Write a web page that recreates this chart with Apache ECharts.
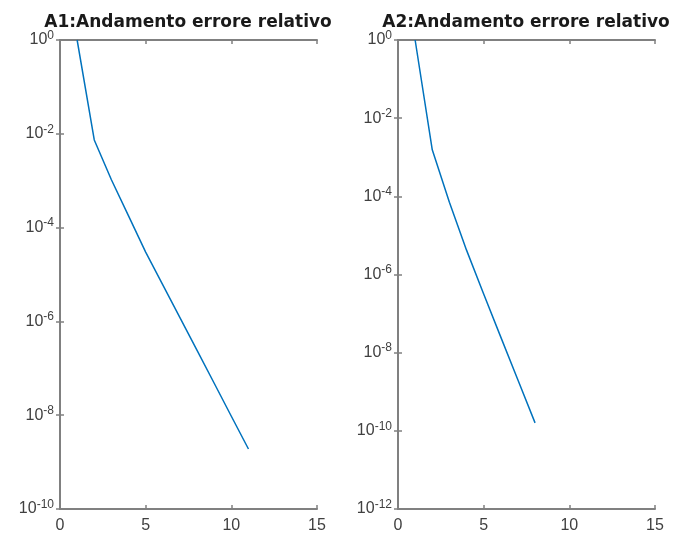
<!DOCTYPE html>
<html>
<head>
<meta charset="utf-8">
<script src="https://cdn.jsdelivr.net/npm/echarts@6/dist/echarts.min.js"></script>
<style>
html,body{margin:0;padding:0;background:#fff;}
#chart{width:675px;height:534px;}
</style>
</head>
<body>
<div id="chart"></div>
<script>
// Data (iteration index vs relative error)
const titles = ['A1:Andamento errore relativo', 'A2:Andamento errore relativo'];
const xA1 = [1, 2, 3, 4, 5, 6, 7, 8, 9, 10, 11];
const errA1 = [1.0, 7.4e-3, 1.05e-3, 1.78e-4, 3.0e-5, 6.0e-6, 1.2e-6, 2.4e-7, 4.8e-8, 9.5e-9, 1.9e-9];
const xA2 = [1, 2, 3, 4, 5, 6, 7, 8];
const errA2 = [1.0, 1.55e-3, 7.1e-5, 4.2e-6, 3.16e-7, 2.5e-8, 2.0e-9, 1.6e-10];
const xTicks = [0, 5, 10, 15];
const yTicksA1 = [1e-10, 1e-8, 1e-6, 1e-4, 1e-2, 1];
const yTicksA2 = [1e-12, 1e-10, 1e-8, 1e-6, 1e-4, 1e-2, 1];

const axisColor = '#808080';
const textColor = '#404040';
const fontFam = '"Liberation Sans", Arial, sans-serif';

function expLabel(v) {
  const e = Math.round(Math.log10(v));
  return '{b|10}{s|' + e + '}';
}
const rich = {
  b: {fontSize: 16, fontFamily: fontFam, color: textColor},
  s: {fontSize: 12, fontFamily: fontFam, color: textColor, padding: [0, 0, 9, 0]}
};

function xAxes(gi) {
  const common = {type: 'value', gridIndex: gi, min: xTicks[0], max: xTicks[xTicks.length - 1],
    axisLine: {lineStyle: {color: axisColor, width: 2}},
    axisTick: {inside: true, length: 4, lineStyle: {color: axisColor, width: 1.5}, customValues: xTicks},
    splitLine: {show: false}};
  return [
    Object.assign({}, common, {position: 'bottom',
      axisLabel: {color: textColor, fontSize: 16, fontFamily: fontFam, margin: 9, customValues: xTicks}}),
    Object.assign({}, common, {position: 'top', axisLabel: {show: false}})
  ];
}
function yAxes(gi, ticks) {
  const common = {type: 'log', logBase: 10, gridIndex: gi, min: ticks[0], max: ticks[ticks.length - 1],
    axisLine: {lineStyle: {color: axisColor, width: 2}},
    axisTick: {inside: true, length: 4, lineStyle: {color: axisColor, width: 1.5}, customValues: ticks},
    splitLine: {show: false}, minorTick: {show: false}};
  return [
    Object.assign({}, common, {position: 'left',
      axisLabel: {formatter: expLabel, rich: rich, margin: 6, customValues: ticks}}),
    Object.assign({}, common, {position: 'right', axisLabel: {show: false}})
  ];
}

const grids = [
  {left: 60, right: 358, top: 40, bottom: 24},
  {left: 398, right: 20, top: 40, bottom: 24}
];
const titleStyle = {fontSize: 17, fontWeight: 'bold', color: '#1a1a1a', fontFamily: '"DejaVu Sans", sans-serif'};

const option = {
  animation: false,
  backgroundColor: '#fff',
  title: [
    {text: titles[0], left: 183, top: 9, textAlign: 'center', textStyle: titleStyle},
    {text: titles[1], left: 521, top: 9, textAlign: 'center', textStyle: titleStyle}
  ],
  grid: grids,
  xAxis: xAxes(0).concat(xAxes(1)),
  yAxis: yAxes(0, yTicksA1).concat(yAxes(1, yTicksA2)),
  series: [
    {type: 'line', xAxisIndex: 0, yAxisIndex: 0, data: xA1.map((x, i) => [x, errA1[i]]),
     showSymbol: false, lineStyle: {color: '#0072BD', width: 1.5}, clip: true},
    {type: 'line', xAxisIndex: 2, yAxisIndex: 2, data: xA2.map((x, i) => [x, errA2[i]]),
     showSymbol: false, lineStyle: {color: '#0072BD', width: 1.5}, clip: true}
  ]
};
const chart = echarts.init(document.getElementById('chart'), null, {renderer: 'canvas'});
chart.setOption(option);
</script>
</body>
</html>
